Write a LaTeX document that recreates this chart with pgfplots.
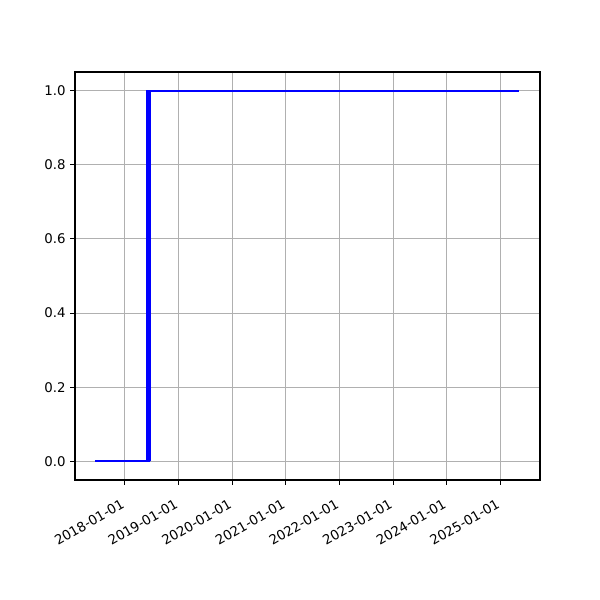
\documentclass[border=0pt]{standalone}
\usepackage{fontspec}
\setmainfont{DejaVu Sans}
\usepackage{pgfplots}
\pgfplotsset{compat=1.18}

\begin{document}
\begin{tikzpicture}
  % page: 600x600 px at 0.75pt per px
  \begin{axis}[
    at={(56.25pt,90pt)}, anchor=south west,
    scale only axis,
    width=348.75pt, height=306pt,
    xmin=2017.07, xmax=2025.74,
    ymin=-0.05, ymax=1.05,
    xtick={2018,2019,2020,2021,2022,2023,2024,2025},
    xticklabels={2018-01-01,2019-01-01,2020-01-01,2021-01-01,2022-01-01,2023-01-01,2024-01-01,2025-01-01},
    xticklabel style={rotate=30, anchor=north east, inner sep=1pt, xshift=-7pt, yshift=-6pt},
    ytick={0,0.2,0.4,0.6,0.8,1.0},
    yticklabel style={/pgf/number format/fixed, /pgf/number format/fixed zerofill, /pgf/number format/precision=1},
    /pgf/number format/assume math mode=true,
    tick label style={font=\fontsize{10pt}{12pt}\selectfont},
    tick align=outside,
    tickpos=left,
    major tick length=3.5pt,
    every tick/.style={black, line width=0.8pt},
    axis line style={line width=0.8pt},
    grid=major,
    major grid style={color=black!31, line width=0.8pt},
  ]
    \addplot[color=blue, line width=1.5pt, line join=miter] coordinates {
      (2017.44,0) (2018.41,0) (2018.41,1) (2018.43,1) (2018.43,0)
      (2018.45,0) (2018.45,1) (2018.46,1) (2018.46,0) (2018.47,0)
      (2018.44,0) (2018.44,1) (2025.35,1)
    };
  \end{axis}
  \pgfresetboundingbox
  \useasboundingbox (0,0) rectangle (450pt,450pt);
\end{tikzpicture}
\end{document}
